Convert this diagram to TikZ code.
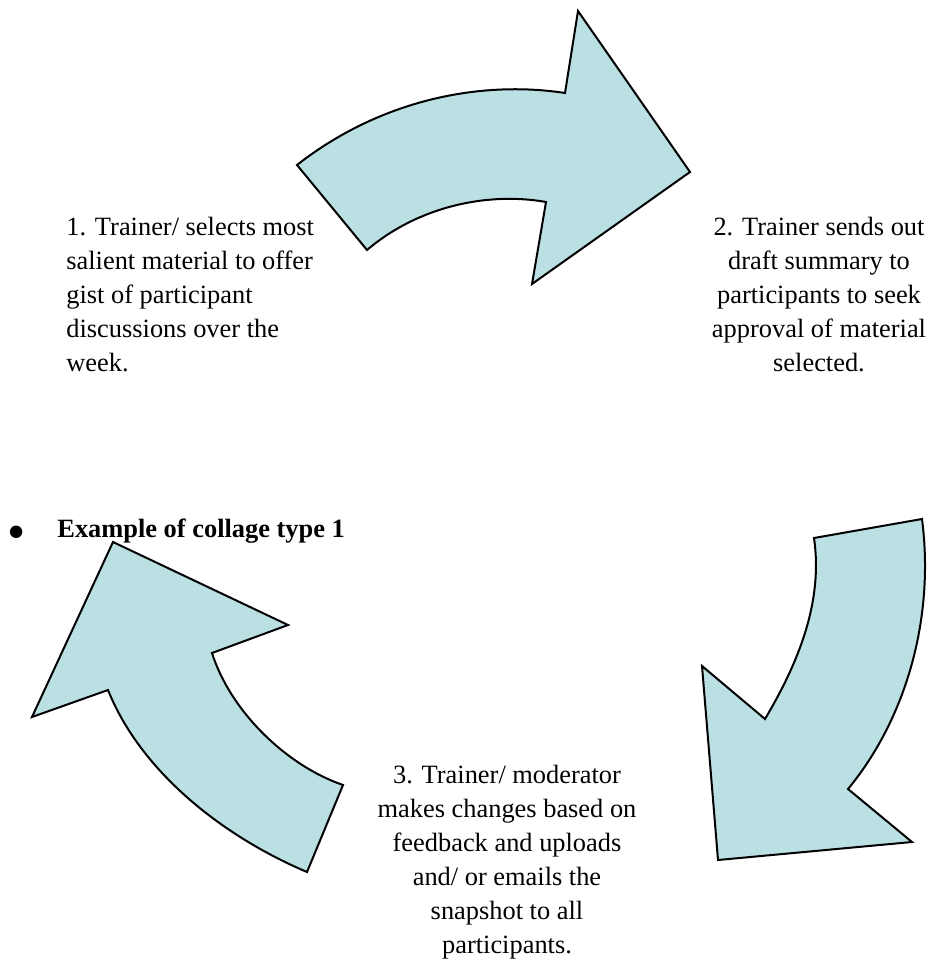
\documentclass[tikz,border=0pt]{standalone}
\usepackage{fontspec}
\setmainfont{Liberation Serif}
\usetikzlibrary{positioning}

\definecolor{arrowfill}{RGB}{186,224,228}

\tikzset{
% block arrows of the cycle
bigarrow/.style={draw=black, fill=arrowfill, line width=1pt, line join=miter},
steptext/.style={inner sep=0pt, font=\fontsize{13.2}{17}\selectfont},
% >=latex,
}

\begin{document}
\begin{tikzpicture}[x=0.5pt, y=-0.5pt]

    \useasboundingbox (0,0) rectangle (932,962);

    % Arrows
    \draw [bigarrow] (297,165) -- (367,250)
        .. controls (420,205) and (490,192) .. (546,202)
        -- (532,284) -- (690,172) -- (578,11) -- (565,93)
        .. controls (480,80) and (380,100) .. (297,165) -- cycle;

    \draw [bigarrow] (922,519) -- (814,538)
        .. controls (823,600) and (800,660) .. (765,719)
        -- (702,666) -- (718,860) -- (912,842) -- (848,789)
        .. controls (905,720) and (935,620) .. (922,519) -- cycle;

    \draw [bigarrow] (113,542) -- (288,625) -- (212,653)
        .. controls (230,710) and (285,765) .. (343,785)
        -- (307,872)
        .. controls (220,835) and (140,770) .. (108,690)
        -- (32,717) -- cycle;

    % Labels
    \node (step1) [steptext, anchor=north west, align=left] at (66,217)
        {1. Trainer/ selects most\\ salient material to offer\\ gist of participant\\ discussions over the\\ week.};
    \node (step2) [steptext, anchor=north, align=center] at (819,217)
        {2. Trainer sends out\\ draft summary to\\ participants to seek\\ approval of material\\ selected.};
    \node (step3) [steptext, anchor=north, align=center] at (507,765)
        {3. Trainer/ moderator\\ makes changes based on\\ feedback and uploads\\ and/ or emails the\\ snapshot to all\\ participants.};

    \node (dot) [inner sep=0pt, font=\fontsize{26}{26}\selectfont] at (17,538) {\textbullet};
    \node (example) [steptext, anchor=base west, font=\fontsize{13.2}{17}\selectfont\bfseries] at (57,537)
        {Example of collage type 1};

\end{tikzpicture}
\end{document}
